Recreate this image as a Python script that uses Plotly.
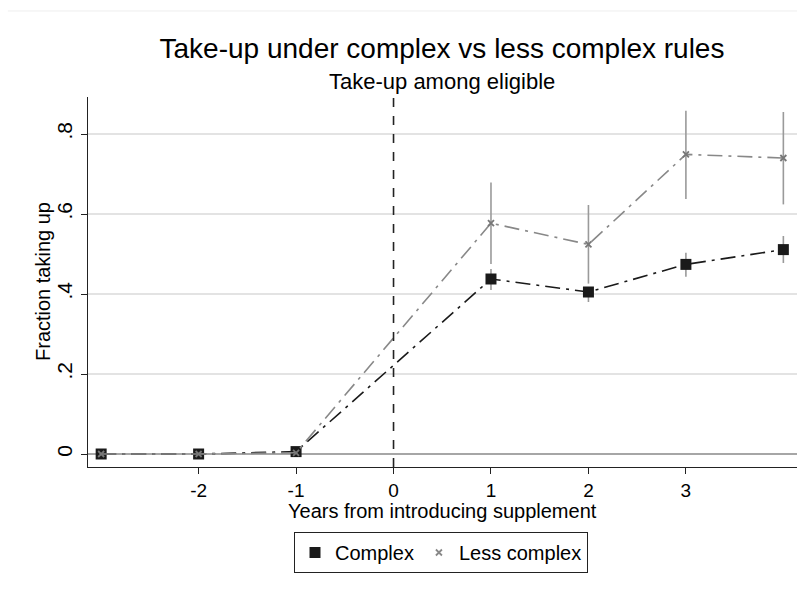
import plotly.graph_objects as go

years = [-3, -2, -1, 1, 2, 3, 4]
complex_vals = [0.0, 0.0, 0.006, 0.4375, 0.405, 0.474, 0.511]
complex_hi = [0.0, 0.0, 0.003, 0.4625, 0.4175, 0.503, 0.545]
complex_lo = [0.0, 0.0, 0.003, 0.410, 0.380, 0.443, 0.4775]
less_vals = [0.0, 0.0, 0.003, 0.577, 0.524, 0.749, 0.740]
less_hi = [0.0, 0.0, 0.002, 0.679, 0.6225, 0.858, 0.855]
less_lo = [0.0, 0.0, 0.002, 0.475, 0.426, 0.6375, 0.624]

x_ticks = [-2, -1, 0, 1, 2, 3]
x_tick_labels = ["-2", "-1", "0", "1", "2", "3"]
y_ticks = [0, 0.2, 0.4, 0.6, 0.8]
y_tick_labels = ["0", ".2", ".4", ".6", ".8"]

FONT = "Liberation Sans, Arial, sans-serif"

def err(vals, hi, lo):
    return dict(type="data", symmetric=False,
                array=[h - v for h, v in zip(hi, vals)],
                arrayminus=[v - l for v, l in zip(vals, lo)],
                color="#9a9a9a", thickness=1.6, width=0)

fig = go.Figure()
fig.add_trace(go.Scatter(
    x=years, y=complex_vals, mode="lines+markers", name="Complex",
    line=dict(color="#1a1a1a", width=1.6, dash="longdashdot"),
    marker=dict(symbol="square", size=11, color="#1a1a1a"),
    error_y=err(complex_vals, complex_hi, complex_lo), showlegend=False))
fig.add_trace(go.Scatter(
    x=years, y=less_vals, mode="lines+markers", name="Less complex",
    line=dict(color="#888888", width=1.6, dash="longdashdot"),
    marker=dict(symbol="x-thin", size=6, color="#777777",
                line=dict(color="#777777", width=1.8)),
    error_y=err(less_vals, less_hi, less_lo), showlegend=False))
# legend entries (markers only)
fig.add_trace(go.Scatter(x=[None], y=[None], mode="markers", name="Complex",
                         marker=dict(symbol="square", size=11, color="#1a1a1a")))
fig.add_trace(go.Scatter(x=[None], y=[None], mode="markers", name="Less complex",
                         marker=dict(symbol="x-thin", size=6, color="#888888",
                                     line=dict(color="#888888", width=1.8))))

fig.add_shape(type="line", xref="x", yref="paper", x0=0, x1=0, y0=0, y1=1,
              line=dict(color="#222222", width=1.6, dash="dash"))
fig.add_shape(type="line", xref="paper", yref="paper", x0=-0.113, x1=1.0, y0=1.2325, y1=1.2325,
              line=dict(color="#eeeeee", width=1))

fig.update_layout(
    width=806, height=591,
    margin=dict(l=88, r=9, t=97, b=124),
    paper_bgcolor="white", plot_bgcolor="white",
    font=dict(family=FONT, color="black", size=19),
    title=dict(text="Take-up under complex vs less complex rules",
               x=(442) / 806, xanchor="center", y=1 - 48 / 591, yanchor="middle",
               font=dict(size=28, family=FONT, color="black")),
    xaxis=dict(range=[-3.135, 4.14], tickvals=x_ticks, ticktext=x_tick_labels,
               showgrid=False,
               zeroline=False, showline=True, linecolor="#222222", linewidth=1.3,
               ticks="outside", ticklen=6, tickcolor="#222222", tickwidth=1.3,
               tickfont=dict(size=19)),
    yaxis=dict(range=[-0.0325, 0.8925], tickvals=y_ticks, ticktext=y_tick_labels,
               showgrid=True, gridcolor="#e3e3e3", gridwidth=1.5,
               zeroline=True, zerolinecolor="#a6a6a6", zerolinewidth=1.6,
               showline=True, linecolor="#222222", linewidth=1.3,
               ticks="outside", ticklen=6, tickcolor="#222222", tickwidth=1.3,
               tickangle=-90, tickfont=dict(size=21)),
    legend=dict(orientation="h", x=(441 - 88) / 709, xanchor="center",
                y=(467 - 532) / 370, yanchor="top",
                bordercolor="#222222", borderwidth=1, bgcolor="white",
                font=dict(size=20), itemwidth=30),
    annotations=[
        dict(text="Take-up among eligible", xref="paper", yref="paper",
             x=(442 - 88) / 709, y=(467 - 82) / 370, showarrow=False,
             xanchor="center", yanchor="middle", font=dict(size=22)),
        dict(text="Years from introducing supplement", xref="paper", yref="paper",
             x=(442 - 88) / 709, y=(467 - 511) / 370, showarrow=False,
             xanchor="center", yanchor="middle", font=dict(size=20)),
        dict(text="Fraction taking up", xref="paper", yref="paper",
             x=(43 - 88) / 709, y=(467 - 282) / 370, showarrow=False,
             xanchor="center", yanchor="middle", textangle=-90, font=dict(size=20)),
    ],
)

fig.write_html("out.html")
